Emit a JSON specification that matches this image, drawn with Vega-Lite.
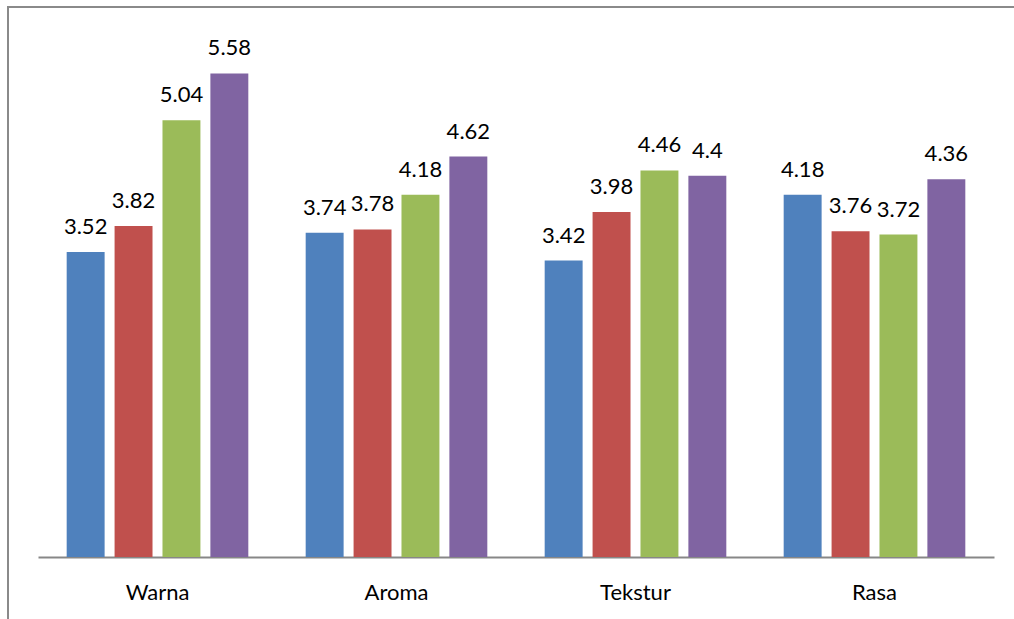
{
  "$schema": "https://vega.github.io/schema/vega-lite/v6.json",
  "autosize": "none",
  "padding": {"left": 8, "top": 7, "right": 0, "bottom": 0},
  "width": 1009,
  "height": 615,
  "background": "white",
  "config": {
    "view": {"stroke": "#8a8a8a", "strokeWidth": 2},
    "font": "Lato"
  },
  "data": {
    "values": [
      {"kategori": "Warna", "seri": "S1", "v": 3.52},
      {"kategori": "Warna", "seri": "S2", "v": 3.82},
      {"kategori": "Warna", "seri": "S3", "v": 5.04},
      {"kategori": "Warna", "seri": "S4", "v": 5.58},
      {"kategori": "Aroma", "seri": "S1", "v": 3.74},
      {"kategori": "Aroma", "seri": "S2", "v": 3.78},
      {"kategori": "Aroma", "seri": "S3", "v": 4.18},
      {"kategori": "Aroma", "seri": "S4", "v": 4.62},
      {"kategori": "Tekstur", "seri": "S1", "v": 3.42},
      {"kategori": "Tekstur", "seri": "S2", "v": 3.98},
      {"kategori": "Tekstur", "seri": "S3", "v": 4.46},
      {"kategori": "Tekstur", "seri": "S4", "v": 4.4},
      {"kategori": "Rasa", "seri": "S1", "v": 4.18},
      {"kategori": "Rasa", "seri": "S2", "v": 3.76},
      {"kategori": "Rasa", "seri": "S3", "v": 3.72},
      {"kategori": "Rasa", "seri": "S4", "v": 4.36}
    ]
  },
  "encoding": {
    "x": {
      "field": "kategori",
      "type": "nominal",
      "sort": ["Warna", "Aroma", "Tekstur", "Rasa"],
      "scale": {"range": [30, 986], "paddingInner": 0.24, "paddingOuter": 0.12},
      "axis": {
        "title": null,
        "labelAngle": 0,
        "labelFontSize": 22,
        "labelFont": "Lato",
        "labelColor": "#000000",
        "labelPadding": 25,
        "ticks": false,
        "domainColor": "#878787",
        "domainWidth": 2,
        "offset": -65,
        "grid": false
      }
    },
    "xOffset": {
      "field": "seri",
      "type": "nominal",
      "scale": {"paddingInner": 0.208, "paddingOuter": 0}
    },
    "y": {
      "field": "v",
      "type": "quantitative",
      "scale": {"domain": [0, 6], "range": [550, 30], "nice": false, "zero": true},
      "axis": null
    }
  },
  "layer": [
    {
      "mark": {"type": "bar"},
      "encoding": {
        "color": {
          "field": "seri",
          "type": "nominal",
          "scale": {"domain": ["S1", "S2", "S3", "S4"], "range": ["#4F81BD", "#C0504D", "#9BBB59", "#8064A2"]},
          "legend": null
        }
      }
    },
    {
      "mark": {"type": "text", "baseline": "alphabetic", "dy": -18, "fontSize": 22, "font": "Lato", "color": "#000000"},
      "encoding": {
        "text": {"field": "v", "type": "nominal"}
      }
    }
  ]
}
